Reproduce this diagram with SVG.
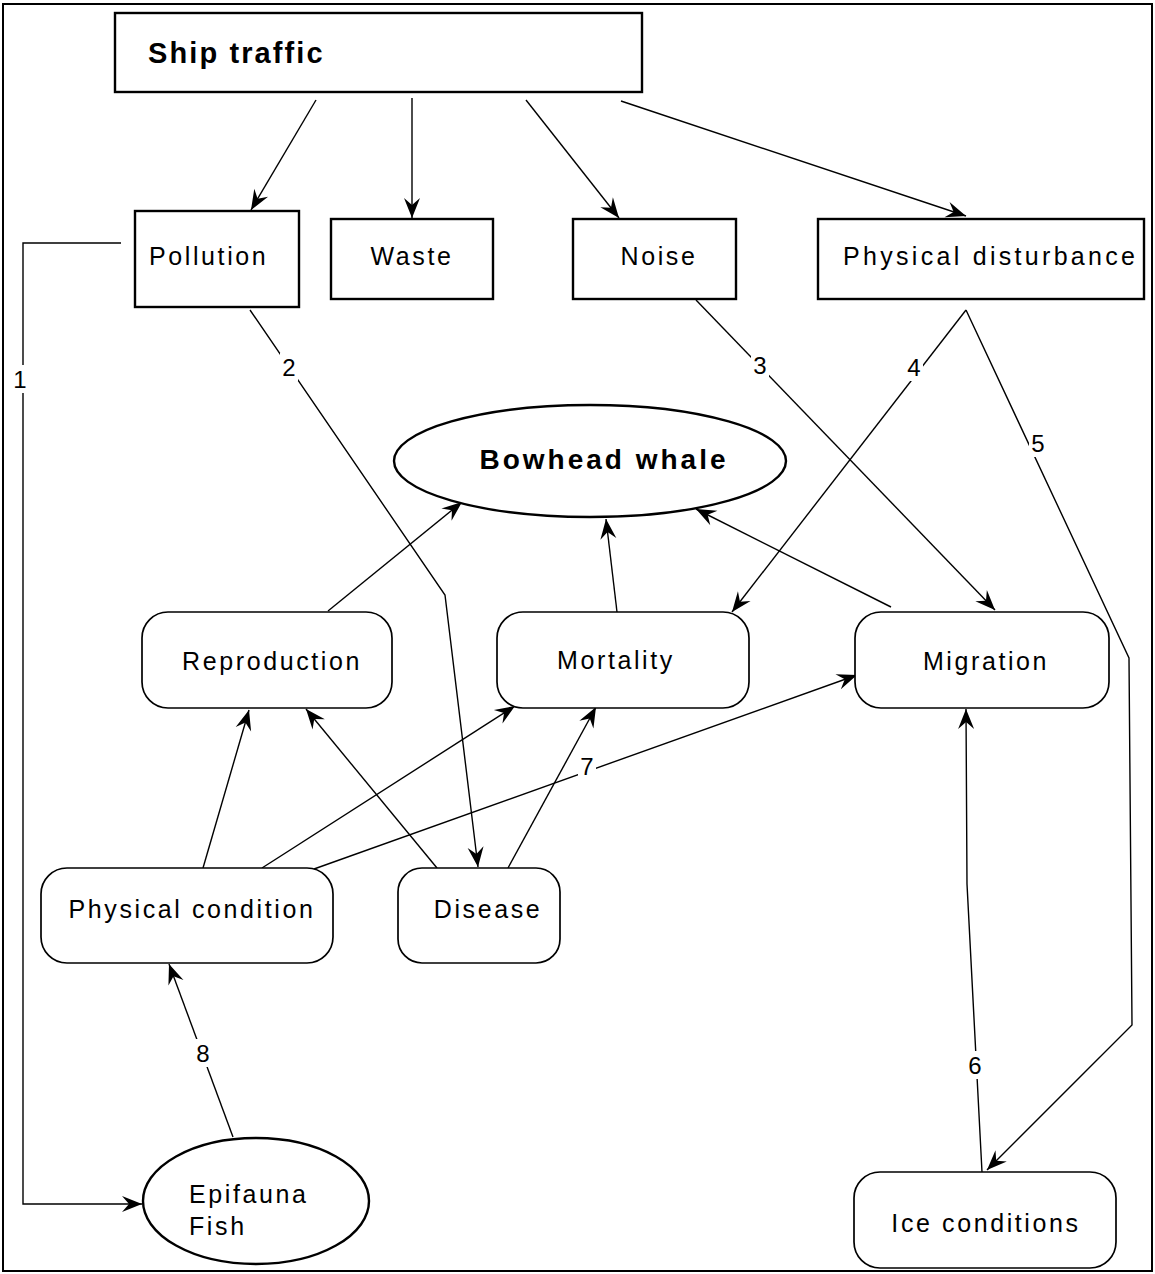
<svg xmlns="http://www.w3.org/2000/svg" width="1155" height="1274" viewBox="0 0 1155 1274">
<style>
.box{fill:#fff;stroke:#000;stroke-width:2.4}
.rbox{fill:#fff;stroke:#000;stroke-width:1.7}
.t{font-family:"Liberation Sans",Arial,sans-serif;font-size:25px;letter-spacing:2.6px;fill:#000}
.tb{font-family:"Liberation Sans",Arial,sans-serif;font-weight:bold;fill:#000}
.c{fill:none;stroke:#000;stroke-width:1.4}
.lbl{font-family:"Liberation Sans",Arial,sans-serif;font-size:24px;fill:#000;text-anchor:middle}
.lbg{fill:#fff}
</style>
<defs>
<marker id="ah" viewBox="-21 -9 22 18" markerWidth="22" markerHeight="18" refX="0" refY="0" orient="auto" markerUnits="userSpaceOnUse">
<path d="M0,0 L-20,-8 L-13,0 L-20,8 z" fill="#000"/>
</marker>
</defs>
<rect x="0" y="0" width="1155" height="1274" fill="#fff"/>
<rect x="3" y="4" width="1149" height="1267" fill="none" stroke="#000" stroke-width="2"/>

<g id="connectors">
<line class="c" x1="316" y1="100" x2="251" y2="210" marker-end="url(#ah)"/>
<line class="c" x1="412" y1="98" x2="412" y2="218" marker-end="url(#ah)"/>
<line class="c" x1="526" y1="100" x2="619" y2="218" marker-end="url(#ah)"/>
<line class="c" x1="621" y1="101" x2="966" y2="216" marker-end="url(#ah)"/>
<polyline class="c" points="121,243 23,243 23,1204 142,1204" marker-end="url(#ah)"/>
<polyline class="c" points="250,310 445,595 478,867" marker-end="url(#ah)"/>
<line class="c" x1="696" y1="300" x2="995" y2="610" marker-end="url(#ah)"/>
<line class="c" x1="966" y1="310" x2="732" y2="612" marker-end="url(#ah)"/>
<polyline class="c" points="966,310 1129,658 1132,1025 987,1170" marker-end="url(#ah)"/>
<line class="c" x1="328" y1="611" x2="462" y2="502" marker-end="url(#ah)"/>
<line class="c" x1="617" y1="612" x2="606" y2="519" marker-end="url(#ah)"/>
<line class="c" x1="891" y1="607" x2="696" y2="509" marker-end="url(#ah)"/>
<line class="c" x1="203" y1="868" x2="249" y2="710" marker-end="url(#ah)"/>
<line class="c" x1="437" y1="868" x2="306" y2="709" marker-end="url(#ah)"/>
<line class="c" x1="262" y1="868" x2="515" y2="706" marker-end="url(#ah)"/>
<line class="c" x1="314" y1="869" x2="857" y2="675" marker-end="url(#ah)"/>
<line class="c" x1="508" y1="868" x2="596" y2="707" marker-end="url(#ah)"/>
<line class="c" x1="233" y1="1137" x2="169" y2="964" marker-end="url(#ah)"/>
<polyline class="c" points="982,1172 967,884 966,709" marker-end="url(#ah)"/>
<rect class="lbg" x="12" y="365" width="18" height="28"/>
<text class="lbl" x="20" y="388">1</text>
<rect class="lbg" x="280" y="353" width="18" height="28"/>
<text class="lbl" x="289" y="376">2</text>
<rect class="lbg" x="751" y="351" width="18" height="28"/>
<text class="lbl" x="760" y="374">3</text>
<rect class="lbg" x="905" y="353" width="18" height="28"/>
<text class="lbl" x="914" y="376">4</text>
<rect class="lbg" x="1029" y="429" width="18" height="28"/>
<text class="lbl" x="1038" y="452">5</text>
<rect class="lbg" x="966" y="1051" width="18" height="28"/>
<text class="lbl" x="975" y="1074">6</text>
<rect class="lbg" x="578" y="752" width="18" height="26"/>
<text class="lbl" x="587" y="775">7</text>
<rect class="lbg" x="194" y="1039" width="18" height="28"/>
<text class="lbl" x="203" y="1062">8</text>
</g>

<g id="ship-traffic">
<rect class="box" x="115" y="13" width="527" height="79"/>
<text class="tb" x="148" y="63" font-size="29" letter-spacing="2.1">Ship traffic</text>
</g>
<g id="pollution">
<rect class="box" x="135" y="211" width="164" height="96"/>
<text class="t" x="149" y="265">Pollution</text>
</g>
<g id="waste">
<rect class="box" x="331" y="219" width="162" height="80"/>
<text class="t" x="412" y="265" text-anchor="middle">Waste</text>
</g>
<g id="noise">
<rect class="box" x="573" y="219" width="163" height="80"/>
<text class="t" x="659" y="265" text-anchor="middle">Noise</text>
</g>
<g id="physical-disturbance">
<rect class="box" x="818" y="219" width="326" height="80"/>
<text class="t" x="843" y="265" style="letter-spacing:3.3px">Physical disturbance</text>
</g>
<g id="bowhead-whale">
<ellipse class="box" cx="590" cy="461" rx="196" ry="56"/>
<text class="tb" x="604" y="469" font-size="28" letter-spacing="3" text-anchor="middle">Bowhead whale</text>
</g>
<g id="reproduction">
<rect class="rbox" x="142" y="612" width="250" height="96" rx="26"/>
<text class="t" x="272" y="670" text-anchor="middle">Reproduction</text>
</g>
<g id="mortality">
<rect class="rbox" x="497" y="612" width="252" height="96" rx="26"/>
<text class="t" x="616" y="669" text-anchor="middle">Mortality</text>
</g>
<g id="migration">
<rect class="rbox" x="855" y="612" width="254" height="96" rx="26"/>
<text class="t" x="986" y="670" text-anchor="middle">Migration</text>
</g>
<g id="physical-condition">
<rect class="rbox" x="41" y="868" width="292" height="95" rx="26"/>
<text class="t" x="192" y="918" text-anchor="middle">Physical condition</text>
</g>
<g id="disease">
<rect class="rbox" x="398" y="868" width="162" height="95" rx="24"/>
<text class="t" x="488" y="918" text-anchor="middle">Disease</text>
</g>
<g id="ice-conditions">
<rect class="rbox" x="854" y="1172" width="262" height="96" rx="26"/>
<text class="t" x="986" y="1232" text-anchor="middle">Ice conditions</text>
</g>
<g id="epifauna-fish">
<ellipse class="box" cx="256" cy="1201" rx="113" ry="63"/>
<text class="t" x="189" y="1203">Epifauna</text>
<text class="t" x="189" y="1235">Fish</text>
</g>
</svg>
